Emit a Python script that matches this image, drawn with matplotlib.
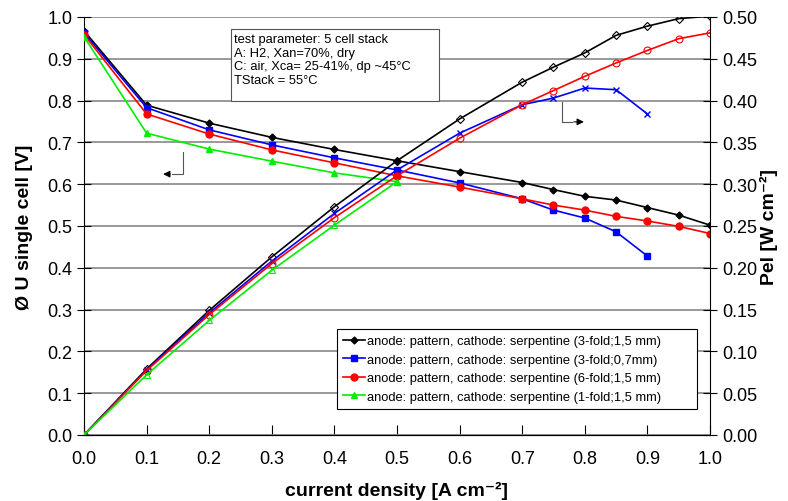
import matplotlib
matplotlib.use("Agg")
import matplotlib.pyplot as plt
from matplotlib.patches import Rectangle

plt.rcParams['font.family'] = ['Liberation Sans', 'DejaVu Sans']

# current density [A cm-2]
j_full = [0.0, 0.1, 0.2, 0.3, 0.4, 0.5, 0.6, 0.7, 0.75, 0.8, 0.85, 0.9, 0.95, 1.0]
j_blue = [0.0, 0.1, 0.2, 0.3, 0.4, 0.5, 0.6, 0.7, 0.75, 0.8, 0.85, 0.9]
j_green = [0.0, 0.1, 0.2, 0.3, 0.4, 0.5]

# single cell voltage [V]
v_black = [0.967, 0.789, 0.746, 0.712, 0.683, 0.656, 0.630, 0.604, 0.587, 0.571, 0.562, 0.544, 0.526, 0.502]
v_blue = [0.962, 0.783, 0.730, 0.694, 0.663, 0.634, 0.603, 0.565, 0.538, 0.519, 0.486, 0.428]
v_red = [0.958, 0.768, 0.720, 0.682, 0.651, 0.620, 0.593, 0.565, 0.550, 0.538, 0.523, 0.512, 0.499, 0.482]
v_green = [0.953, 0.722, 0.684, 0.655, 0.627, 0.606]

# electrical power density [W cm-2]
p_black = [0.0, 0.079, 0.149, 0.213, 0.273, 0.328, 0.378, 0.422, 0.440, 0.457, 0.478, 0.489, 0.498, 0.501]
p_blue = [0.0, 0.078, 0.146, 0.208, 0.265, 0.317, 0.361, 0.395, 0.403, 0.415, 0.413, 0.384]
p_red = [0.0, 0.077, 0.144, 0.205, 0.260, 0.310, 0.355, 0.395, 0.412, 0.429, 0.445, 0.460, 0.474, 0.481]
p_green = [0.0, 0.072, 0.137, 0.197, 0.251, 0.303]

labels = [
    "anode: pattern, cathode: serpentine (3-fold;1,5 mm)",
    "anode: pattern, cathode: serpentine (3-fold;0,7mm)",
    "anode: pattern, cathode: serpentine (6-fold;1,5 mm)",
    "anode: pattern, cathode: serpentine (1-fold;1,5 mm)",
]

fig = plt.figure(figsize=(7.88, 5.02), dpi=100)
ax = fig.add_axes([0.1066, 0.1315, 0.7944, 0.8327])
ax2 = ax.twinx()

# voltage curves (filled markers)
ax.plot(j_full, v_black, color='black', marker='D', ms=3.5, lw=1.2, label=labels[0], zorder=5)
ax.plot(j_blue, v_blue, color='#0000ff', marker='s', ms=5, lw=1.2, label=labels[1], zorder=5)
ax.plot(j_full, v_red, color='#ff0000', marker='o', ms=5, lw=1.2, label=labels[2], zorder=5)
ax.plot(j_green, v_green, color='#00ee00', marker='^', ms=5, lw=1.2, label=labels[3], zorder=5)

# power curves (open markers)
ax2.plot(j_full, p_black, color='black', marker='D', ms=4, mfc='none', mew=0.8, lw=1.2)
ax2.plot(j_blue, p_blue, color='#0000ff', marker='x', ms=5, mew=1, lw=1.2)
ax2.plot(j_full, p_red, color='#ff0000', marker='o', ms=5, mfc='none', mew=0.8, lw=1.2)
ax2.plot(j_green, p_green, color='#00ee00', marker='^', ms=5, mfc='none', mew=0.8, lw=1.2)

ax.set_xlim(0, 1.0)
ax.set_ylim(0, 1.0)
ax2.set_ylim(0, 0.5)
ax.set_xticks([i / 10 for i in range(11)])
ax.set_yticks([i / 10 for i in range(11)])
ax2.set_yticks([i / 20 for i in range(11)])
ax.set_xticklabels([f"{i / 10:.1f}" for i in range(11)])
ax.set_yticklabels([f"{i / 10:.1f}" for i in range(11)])
ax2.set_yticklabels([f"{i / 20:.2f}" for i in range(11)])

ax.yaxis.grid(True, color='#888888', lw=1.2)
ax.set_axisbelow(True)
ax.spines['top'].set_visible(False)
ax2.spines['top'].set_visible(False)
ax2.spines['left'].set_visible(False)
ax.spines['right'].set_visible(False)

ax.tick_params(axis='x', direction='in', length=7, labelsize=13, pad=11, colors='black')
ax.tick_params(axis='y', direction='inout', length=10, labelsize=13)
ax2.tick_params(axis='y', direction='inout', length=10, labelsize=13)

ax.set_xlabel("current density [A cm⁻²]", fontsize=14, fontweight='bold', labelpad=10)
ax.set_ylabel("Ø U single cell [V]", fontsize=14, fontweight='bold', labelpad=10)
ax2.set_ylabel("Pel [W cm⁻²]", fontsize=14, fontweight='bold', labelpad=2)

# test parameter box
ax.add_patch(Rectangle((0.235, 0.799), 0.332, 0.172, transform=ax.transAxes, fc='white',
                       ec='#555555', lw=0.8, zorder=9))
ax.text(0.239, 0.962,
        "test parameter: 5 cell stack\nA: H2, Xan=70%, dry\nC: air, Xca= 25-41%, dp ~45°C\nTStack = 55°C",
        transform=ax.transAxes, fontsize=9.3, va='top', ha='left', linespacing=1.2, zorder=10)

# arrows pointing to the respective axes
ax.plot([0.158, 0.158, 0.14], [0.677, 0.624, 0.624], color='#555555', lw=0.8, zorder=6)
ax.annotate("", xy=(0.122, 0.624), xytext=(0.142, 0.624),
            arrowprops=dict(arrowstyle='-|>', color='black', lw=0.8, mutation_scale=10), zorder=6)
ax.plot([0.764, 0.764, 0.78], [0.797, 0.749, 0.749], color='#555555', lw=0.8, zorder=6)
ax.annotate("", xy=(0.803, 0.749), xytext=(0.778, 0.749),
            arrowprops=dict(arrowstyle='-|>', color='black', lw=0.8, mutation_scale=10), zorder=6)

leg = ax.legend(loc='lower left', bbox_to_anchor=(0.404, 0.062, 0.575, 0.19), mode='expand',
                borderaxespad=0, fontsize=9.3, frameon=True, fancybox=False, edgecolor='black',
                framealpha=1, handlelength=1.7, handletextpad=0.15, borderpad=0.5,
                labelspacing=0.5)
leg.get_frame().set_linewidth(0.8)
leg.set_zorder(20)

fig.savefig("out.png", dpi=100)
